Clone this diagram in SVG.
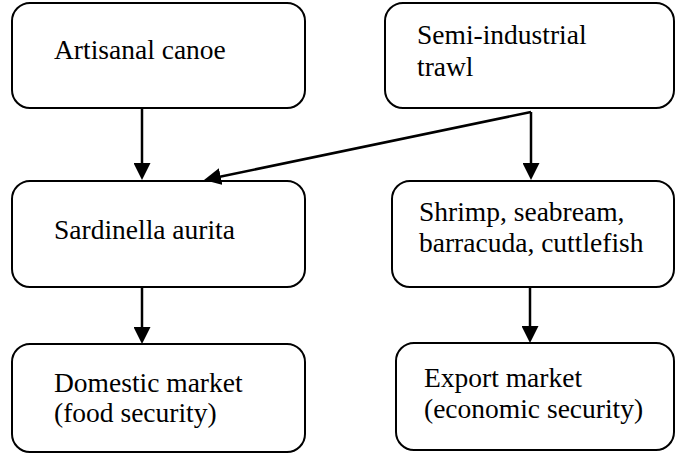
<svg xmlns="http://www.w3.org/2000/svg" width="676" height="455" viewBox="0 0 676 455">
<style>
.box{fill:#fff;stroke:#000;stroke-width:2}
.lbl{font-family:'Liberation Serif','Times New Roman',Tinos,'DejaVu Serif',serif;font-size:27.5px;fill:#000}
.con{stroke:#000;stroke-width:2.5;fill:none;marker-end:url(#ah)}
</style>
<defs>
<marker id="ah" markerUnits="userSpaceOnUse" markerWidth="17" markerHeight="17" refX="7" refY="8.5" orient="auto" viewBox="0 0 17 17">
<path d="M0,0 L17,8.5 L0,17 z" fill="#000"/>
</marker>
</defs>
<rect width="676" height="455" fill="#fff"/>
<g id="n-artisanal">
<rect class="box" x="12" y="3" width="293" height="105" rx="18"/>
<text class="lbl" font-family="Liberation Serif, serif" x="54" y="59">Artisanal canoe</text>
</g>
<g id="n-trawl">
<rect class="box" x="385" y="3" width="289" height="105" rx="18"/>
<text class="lbl" x="417" y="44">Semi-industrial</text>
<text class="lbl" x="417" y="76">trawl</text>
</g>
<g id="n-sardinella">
<rect class="box" x="12" y="181" width="293" height="106" rx="18"/>
<text class="lbl" x="54" y="239">Sardinella aurita</text>
</g>
<g id="n-shrimp">
<rect class="box" x="392" y="181" width="282" height="106" rx="18"/>
<text class="lbl" x="419" y="221">Shrimp, seabream,</text>
<text class="lbl" x="419" y="252">barracuda, cuttlefish</text>
</g>
<g id="n-domestic">
<rect class="box" x="12" y="344" width="293" height="108" rx="18"/>
<text class="lbl" x="54" y="392">Domestic market</text>
<text class="lbl" x="54" y="422">(food security)</text>
</g>
<g id="n-export">
<rect class="box" x="396" y="343" width="278" height="107" rx="18"/>
<text class="lbl" x="424" y="387">Export market</text>
<text class="lbl" x="424" y="418">(economic security)</text>
</g>
<g id="connectors">
<line class="con" x1="142" y1="108" x2="142" y2="170"/>
<line class="con" x1="531" y1="112" x2="531" y2="170"/>
<line class="con" x1="531" y1="112" x2="213.8" y2="178"/>
<line class="con" x1="142" y1="287" x2="142" y2="334"/>
<line class="con" x1="530" y1="287" x2="530" y2="333"/>
</g>
</svg>
